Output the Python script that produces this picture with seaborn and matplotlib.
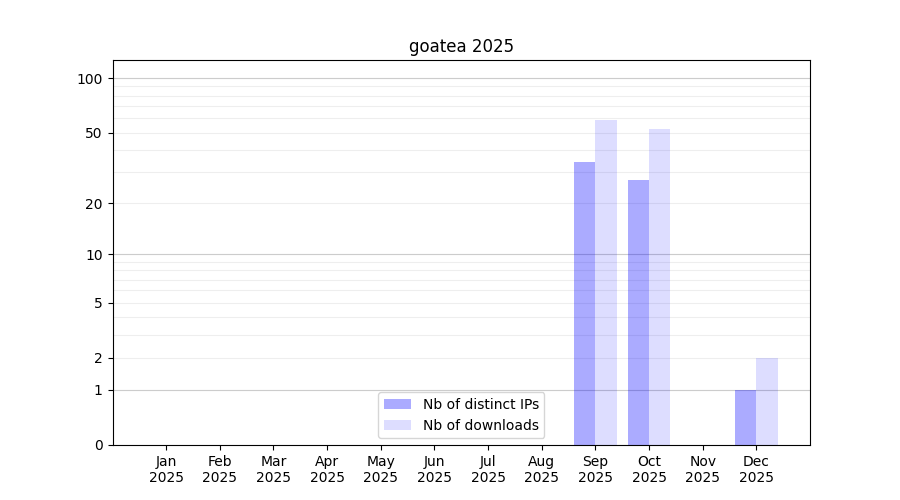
import numpy as np
import pandas as pd
import matplotlib
matplotlib.use("Agg")
import matplotlib.pyplot as plt
import seaborn as sns
from matplotlib.ticker import FixedLocator, NullFormatter
from matplotlib.patches import Patch

months = ["Jan", "Feb", "Mar", "Apr", "May", "Jun", "Jul", "Aug", "Sep", "Oct", "Nov", "Dec"]
year = "2025"
distinct_ips = [0, 0, 0, 0, 0, 0, 0, 0, 34, 27, 0, 1]
downloads = [0, 0, 0, 0, 0, 0, 0, 0, 59, 52, 0, 2]
series_names = ["Nb of distinct IPs", "Nb of downloads"]
series_alpha = [0.33, 0.135]
major_ticks = [0, 1, 2, 5, 10, 20, 50, 100]
strong_grid = [1, 10, 100]
minor_ticks = [3, 4, 6, 7, 8, 9, 30, 40, 60, 70, 80, 90]
title = "goatea 2025"

labels = [f"{m}\n{year}" for m in months]
df = pd.DataFrame({
    "month": labels * 2,
    "value": distinct_ips + downloads,
    "series": [series_names[0]] * 12 + [series_names[1]] * 12,
})

fig, ax = plt.subplots(figsize=(9, 5), dpi=100)
sns.barplot(data=df, x="month", y="value", hue="series", order=labels,
            hue_order=series_names, palette=["#0000ff", "#0000ff"],
            width=0.8, saturation=1, legend=False, ax=ax, zorder=2)

for cont, a in zip(ax.containers, series_alpha):
    for p in cont:
        p.set_alpha(a)

ax.set_yscale("function", functions=(lambda x: np.log10(np.clip(x, 0, None) + 1),
                                     lambda y: 10 ** y - 1))
ax.set_ylim(0, 126)
ax.set_xlim(-1, 12)
ax.yaxis.set_major_locator(FixedLocator(major_ticks))
ax.set_yticklabels([str(t) for t in major_ticks])
ax.yaxis.set_minor_locator(FixedLocator(minor_ticks))
ax.yaxis.set_minor_formatter(NullFormatter())
ax.tick_params(axis="y", which="minor", length=0)
ax.grid(True, axis="y", which="both", color="#eeeeee", linewidth=0.8, zorder=0)
for g in strong_grid:
    ax.axhline(g, color="#cccccc", linewidth=0.8, zorder=1)
ax.set_axisbelow(True)
ax.set_xlabel("")
ax.set_ylabel("")
ax.set_title(title)

handles = [Patch(facecolor="#0000ff", alpha=a, label=n) for n, a in zip(series_names, series_alpha)]
ax.legend(handles=handles, loc="lower center")

fig.savefig("out.png", dpi=100)
